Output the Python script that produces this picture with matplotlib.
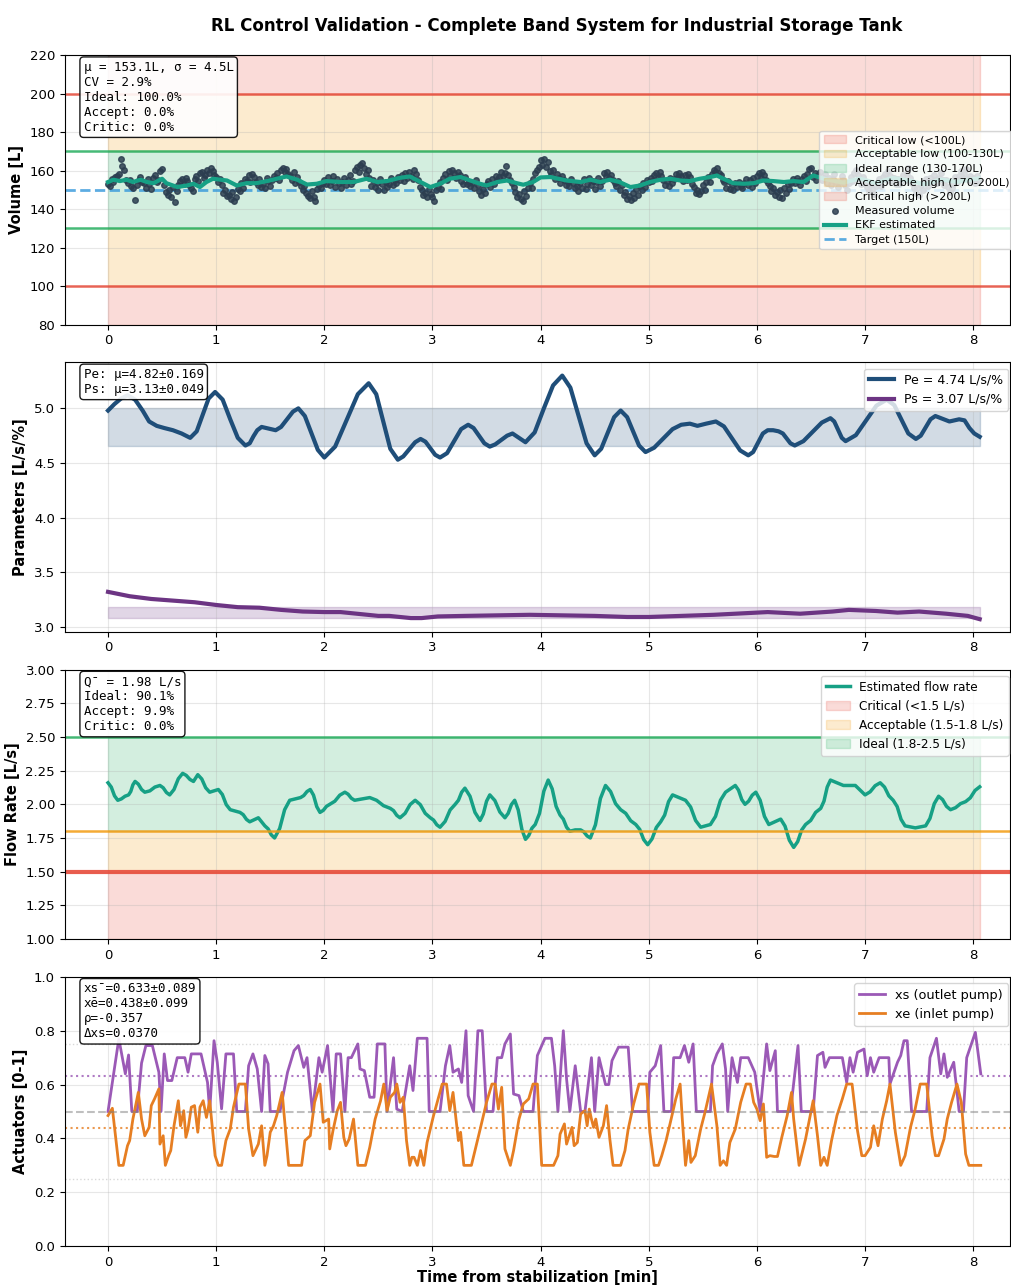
import matplotlib
matplotlib.use("Agg")
import matplotlib.pyplot as plt
import numpy as np

# ---- data ----
# measured volume, one sample per second
vol_meas = [
    153.2, 151.8, 155.6, 154.1, 156.9, 157.4, 158.2, 166.1, 162.3, 160.4, 155.2, 153.8, 154.9, 152.1, 150.8, 144.6, 152.7, 155.3, 156.8, 154.0,
    153.5, 151.2, 155.8, 153.0, 150.6, 156.4, 157.9, 154.3, 155.1, 159.6, 160.8, 152.4, 148.9, 147.2, 149.8, 146.5, 151.3, 143.7, 149.5, 152.8,
    154.6, 155.9, 153.2, 156.1, 154.8, 152.5, 151.0, 149.3, 155.7, 157.2, 154.4, 158.6, 159.4, 156.3, 157.8, 160.2, 158.9, 161.2, 159.7, 157.5,
    156.8, 154.2, 155.9, 152.6, 148.4, 150.1, 146.8, 147.5, 145.2, 148.9, 144.3, 146.1, 150.7, 149.6, 153.4, 151.2, 155.8, 154.7, 157.6, 153.9,
    158.3, 156.9, 154.1, 152.8, 155.6, 151.7, 153.3, 150.9, 156.2, 154.5, 152.2, 155.0, 157.3, 156.1, 158.8, 154.9, 160.3, 161.4, 159.2, 160.7,
    158.5, 157.1, 155.4, 159.3, 153.8, 156.6, 154.2, 152.1, 149.7, 151.9, 148.3, 147.0, 145.6, 149.2, 146.4, 144.1, 150.5, 152.7, 151.0, 153.8,
    155.2, 153.1, 156.7, 152.4, 154.8, 157.3, 151.6, 155.9, 153.7, 150.9, 154.2, 156.1, 152.8, 155.4, 157.6, 153.3, 154.7, 160.2, 161.8, 159.4,
    162.7, 163.9, 161.2, 158.5, 160.4, 156.3, 152.1, 154.9, 151.7, 153.4, 150.2, 155.6, 152.9, 149.8, 154.3, 151.5, 153.0, 156.2, 152.4, 155.1,
    153.6, 156.8, 155.2, 157.9, 154.6, 158.7, 156.4, 159.3, 157.1, 155.8, 160.1, 158.2, 154.9, 151.3, 149.7, 147.2, 148.6, 146.3, 150.4, 147.8,
    146.5, 144.2, 149.8, 151.6, 153.9, 150.7, 156.2, 158.4, 155.1, 159.6, 157.3, 160.5, 158.9, 156.0, 159.2, 157.7, 154.8, 153.1, 156.6, 152.9,
    154.2, 151.8, 153.6, 150.9, 155.4, 152.7, 149.4, 147.6, 150.3, 148.2, 152.9, 154.5, 151.3, 155.8, 153.0, 157.4, 154.9, 156.8, 159.1, 157.2,
    158.6, 162.2, 157.9, 155.3, 153.7, 151.4, 148.8, 146.2, 147.9, 145.1, 144.3, 149.5, 146.7, 151.2, 153.6, 150.8, 155.7, 158.9, 160.4, 162.1,
    165.4, 163.2, 166.0, 161.7, 164.3, 159.8, 157.5, 160.6, 155.9, 158.2, 156.4, 153.8, 157.1, 155.0, 152.6, 154.3, 151.9, 155.7, 153.4, 150.8,
    152.1, 149.6, 153.8, 151.2, 155.6, 150.4, 153.1, 156.3, 152.5, 154.8, 150.7, 153.9, 156.1, 151.8, 154.6, 158.7, 157.3, 159.2, 156.4, 158.0,
    155.3, 153.6, 151.9, 154.4, 150.2, 152.8, 147.5, 149.1, 145.2, 146.8, 144.6, 148.3, 145.9, 150.6, 147.4, 152.1, 149.8, 153.7, 151.4, 155.2,
    153.9, 156.2, 154.5, 157.8, 158.6, 156.1, 159.3, 157.0, 155.4, 152.3, 154.7, 151.8, 156.0, 153.5, 155.9, 158.1, 156.7, 159.0, 157.4, 154.8,
    157.9, 155.2, 158.4, 156.6, 153.1, 151.7, 148.5, 150.2, 147.8, 149.4, 152.6, 150.1, 154.3, 156.8, 153.9, 158.2, 160.4, 159.1, 161.3, 158.6,
    157.6, 155.3, 153.9, 151.2, 154.7, 150.5, 152.8, 149.9, 153.4, 151.6, 154.1, 152.0, 150.8, 153.7, 155.5, 152.4, 154.9, 151.3, 156.2, 153.8,
    157.4, 158.9, 156.2, 159.5, 157.8, 155.1, 153.6, 151.9, 149.4, 150.8, 147.6, 148.9, 146.3, 149.7, 145.8, 151.2, 148.5, 152.9, 150.4, 153.6,
    155.8, 153.4, 156.1, 154.7, 152.3, 155.9, 157.2, 154.5, 158.3, 160.9, 161.4, 156.7, 158.8, 155.2, 157.6, 159.3, 154.9, 156.4, 158.1, 153.7,
    156.3, 152.8, 155.5, 158.2, 154.0, 151.6, 153.9, 157.4, 155.1, 152.3, 149.8, 153.6, 156.9, 154.4, 158.7, 160.2, 157.5, 155.8, 153.2, 156.6,
    154.1, 151.4, 149.2, 152.7, 150.3, 147.9, 151.8, 153.5, 155.9, 152.2, 156.8, 158.4, 155.3, 159.7, 157.1, 154.6, 156.3, 153.1, 155.7, 152.9,
    154.8, 157.6, 155.2, 158.9, 161.3, 156.4, 153.7, 151.0, 148.6, 150.9, 147.3, 152.5, 149.8, 153.9, 155.6, 152.1, 156.4, 154.2, 157.8, 155.0,
    153.6, 156.1, 158.8, 155.4, 152.7, 154.9, 151.3, 148.7, 150.8, 153.2, 156.5, 154.0, 157.3, 159.6, 156.8, 158.2, 160.7, 155.9, 157.4, 154.6,
    156.2, 153.8, 157.1, 155.4,
]
t_meas = np.arange(len(vol_meas)) / 60.0

ekf_t = [0.00, 0.05, 0.11, 0.17, 0.23, 0.30, 0.36, 0.42, 0.50, 0.54, 0.64, 0.73, 0.79, 0.85, 0.91, 0.97,
         1.10, 1.19, 1.28, 1.37, 1.47, 1.56, 1.65, 1.75, 1.84, 1.93, 2.02, 2.15, 2.27, 2.39, 2.49, 2.58,
         2.70, 2.79, 2.89, 2.98, 3.07, 3.16, 3.26, 3.35, 3.44, 3.50, 3.60, 3.69, 3.78, 3.84, 3.93, 4.00,
         4.09, 4.24, 4.37, 4.46, 4.55, 4.64, 4.73, 4.83, 4.92, 5.01, 5.11, 5.20, 5.29, 5.38, 5.47, 5.57,
         5.63, 5.69, 5.78, 5.88, 5.97, 6.06, 6.15, 6.25, 6.34, 6.43, 6.52, 6.62, 6.66, 6.80, 6.95, 7.10,
         7.25, 7.40, 7.55, 7.70, 7.85, 8.05]
ekf_v = [154.1, 155.3, 154.6, 155.3, 154.1, 155.3, 154.1, 153.5, 155.8, 153.5, 151.5, 152.3, 153.2, 151.5, 154.1, 155.8,
         154.9, 152.3, 153.5, 153.5, 154.6, 155.8, 157.0, 155.3, 152.8, 153.2, 154.6, 154.1, 154.1, 155.8, 154.1, 154.6,
         156.3, 157.0, 154.1, 151.5, 153.2, 155.8, 156.7, 154.9, 153.2, 152.3, 154.1, 154.9, 153.5, 152.7, 154.1, 156.5,
         156.7, 154.9, 154.1, 155.3, 154.1, 155.3, 154.1, 151.5, 152.3, 154.1, 155.3, 155.8, 154.9, 154.6, 155.8, 156.7,
         157.5, 155.8, 153.5, 153.2, 153.5, 154.9, 154.6, 154.1, 154.6, 154.1, 157.5, 155.8, 155.3, 153.8, 155.9, 153.6,
         156.2, 155.0, 152.9, 155.4, 154.2, 156.0]

# Pe estimate (time [min], value)
pe_pts = [
    (0.00, 4.98), (0.06, 5.04), (0.12, 5.09), (0.18, 5.12), (0.25, 5.08), (0.32, 4.98), (0.38, 4.88), (0.45, 4.84),
    (0.52, 4.82), (0.60, 4.80), (0.68, 4.77), (0.76, 4.73), (0.82, 4.79), (0.875, 4.94), (0.93, 5.09), (0.99, 5.15),
    (1.06, 5.08), (1.13, 4.90), (1.20, 4.73), (1.27, 4.66), (1.31, 4.68), (1.345, 4.745), (1.38, 4.80), (1.42, 4.83),
    (1.485, 4.815), (1.55, 4.80), (1.60, 4.83), (1.655, 4.90), (1.71, 4.97), (1.76, 5.00), (1.82, 4.93), (1.88, 4.775),
    (1.94, 4.62), (2.00, 4.55), (2.10, 4.65), (2.205, 4.89), (2.31, 5.13), (2.41, 5.23), (2.48, 5.13), (2.545, 4.88),
    (2.61, 4.63), (2.68, 4.53), (2.73, 4.56), (2.785, 4.625), (2.84, 4.69), (2.89, 4.72), (2.935, 4.695), (2.98, 4.635),
    (3.025, 4.575), (3.07, 4.55), (3.135, 4.59), (3.20, 4.70), (3.265, 4.81), (3.33, 4.85), (3.38, 4.82), (3.43, 4.75),
    (3.48, 4.68), (3.53, 4.65), (3.58, 4.67), (3.635, 4.71), (3.69, 4.75), (3.74, 4.77), (3.80, 4.73), (3.86, 4.69),
    (3.945, 4.78), (4.03, 5.00), (4.115, 5.21), (4.20, 5.30), (4.275, 5.19), (4.35, 4.935), (4.425, 4.68), (4.50, 4.57),
    (4.56, 4.63), (4.62, 4.775), (4.68, 4.92), (4.74, 4.98), (4.80, 4.92), (4.855, 4.79), (4.91, 4.66), (4.97, 4.60),
    (5.05, 4.64), (5.135, 4.725), (5.22, 4.81), (5.30, 4.85), (5.38, 4.86), (5.45, 4.84), (5.53, 4.86), (5.62, 4.88),
    (5.695, 4.835), (5.77, 4.725), (5.845, 4.615), (5.92, 4.57), (5.965, 4.60), (6.01, 4.685), (6.055, 4.77), (6.10, 4.80),
    (6.15, 4.80), (6.20, 4.79), (6.24, 4.77), (6.275, 4.725), (6.31, 4.68), (6.35, 4.66), (6.43, 4.70), (6.515, 4.785),
    (6.60, 4.87), (6.68, 4.91), (6.715, 4.88), (6.75, 4.805), (6.785, 4.73), (6.82, 4.70), (6.915, 4.755), (7.01, 4.89),
    (7.105, 5.025), (7.20, 5.08), (7.27, 5.03), (7.335, 4.90), (7.40, 4.77), (7.47, 4.72), (7.515, 4.75), (7.56, 4.825),
    (7.605, 4.90), (7.65, 4.93), (7.715, 4.905), (7.78, 4.88), (7.825, 4.89), (7.87, 4.90), (7.92, 4.89), (7.965, 4.82),
    (8.01, 4.77), (8.06, 4.74),
]
# Ps estimate
ps_pts = [
    (0.00, 3.32), (0.20, 3.28), (0.40, 3.255), (0.60, 3.24), (0.80, 3.225), (1.00, 3.20), (1.20, 3.18), (1.40, 3.175),
    (1.60, 3.155), (1.80, 3.14), (2.00, 3.135), (2.15, 3.135), (2.30, 3.12), (2.50, 3.10), (2.60, 3.10), (2.80, 3.08),
    (2.90, 3.08), (3.05, 3.095), (3.30, 3.10), (3.60, 3.105), (3.90, 3.11), (4.20, 3.105), (4.50, 3.10), (4.80, 3.09),
    (5.00, 3.09), (5.30, 3.10), (5.60, 3.11), (5.90, 3.125), (6.10, 3.135), (6.40, 3.12), (6.70, 3.14), (6.85, 3.155),
    (7.10, 3.145), (7.30, 3.13), (7.50, 3.14), (7.75, 3.12), (7.95, 3.10), (8.06, 3.07),
]

# estimated flow rate
q_pts = [
    (0.00, 2.16), (0.03, 2.128), (0.06, 2.063), (0.09, 2.03), (0.123, 2.04), (0.157, 2.06), (0.19, 2.07), (0.21, 2.095),
    (0.23, 2.145), (0.25, 2.17), (0.28, 2.15), (0.31, 2.11), (0.34, 2.09), (0.387, 2.10), (0.433, 2.128), (0.48, 2.14),
    (0.51, 2.123), (0.54, 2.088), (0.57, 2.07), (0.61, 2.11), (0.65, 2.19), (0.69, 2.23), (0.723, 2.215), (0.757, 2.185),
    (0.79, 2.17), (0.81, 2.195), (0.83, 2.22), (0.867, 2.188), (0.903, 2.123), (0.94, 2.09), (0.98, 2.10), (1.02, 2.11),
    (1.057, 2.073), (1.093, 1.998), (1.13, 1.96), (1.175, 1.95), (1.22, 1.94), (1.25, 1.923), (1.28, 1.888), (1.31, 1.87),
    (1.35, 1.885), (1.39, 1.90), (1.42, 1.87), (1.45, 1.84), (1.48, 1.818), (1.51, 1.773), (1.54, 1.75), (1.587, 1.82),
    (1.633, 1.96), (1.68, 2.03), (1.73, 2.04), (1.78, 2.05), (1.81, 2.065), (1.84, 2.095), (1.87, 2.11), (1.90, 2.068),
    (1.93, 1.983), (1.96, 1.94), (1.99, 1.955), (2.02, 1.985), (2.05, 2.00), (2.097, 2.023), (2.143, 2.068), (2.19, 2.09),
    (2.22, 2.075), (2.25, 2.045), (2.28, 2.03), (2.35, 2.04), (2.42, 2.05), (2.483, 2.03), (2.547, 1.99), (2.61, 1.97),
    (2.64, 1.953), (2.67, 1.918), (2.70, 1.90), (2.747, 1.933), (2.793, 1.998), (2.84, 2.03), (2.887, 1.998), (2.933, 1.933),
    (2.98, 1.90), (3.01, 1.883), (3.04, 1.848), (3.07, 1.83), (3.117, 1.873), (3.163, 1.958), (3.21, 2.00), (3.24, 2.03),
    (3.27, 2.09), (3.30, 2.12), (3.347, 2.06), (3.393, 1.94), (3.44, 1.88), (3.47, 1.928), (3.50, 2.023), (3.53, 2.07),
    (3.577, 2.028), (3.623, 1.943), (3.67, 1.90), (3.70, 1.933), (3.73, 1.998), (3.76, 2.03), (3.793, 1.958), (3.827, 1.813),
    (3.86, 1.74), (3.89, 1.768), (3.92, 1.823), (3.95, 1.85), (3.99, 1.933), (4.03, 2.098), (4.07, 2.18), (4.107, 2.115),
    (4.143, 1.985), (4.18, 1.92), (4.21, 1.89), (4.24, 1.83), (4.27, 1.80), (4.32, 1.81), (4.37, 1.81), (4.40, 1.795),
    (4.43, 1.765), (4.46, 1.75), (4.507, 1.848), (4.553, 2.043), (4.60, 2.14), (4.647, 2.095), (4.693, 2.005), (4.74, 1.96),
    (4.787, 1.933), (4.833, 1.878), (4.88, 1.85), (4.917, 1.813), (4.953, 1.738), (4.99, 1.70), (5.03, 1.743), (5.07, 1.828),
    (5.11, 1.87), (5.147, 1.92), (5.183, 2.02), (5.22, 2.07), (5.28, 2.05), (5.34, 2.03), (5.387, 1.98), (5.433, 1.88),
    (5.48, 1.83), (5.525, 1.84), (5.57, 1.85), (5.617, 1.91), (5.663, 2.03), (5.71, 2.09), (5.755, 2.115), (5.80, 2.14),
    (5.83, 2.105), (5.86, 2.035), (5.89, 2.00), (5.923, 2.023), (5.957, 2.068), (5.99, 2.09), (6.03, 2.03), (6.07, 1.91),
    (6.11, 1.85), (6.165, 1.87), (6.22, 1.89), (6.26, 1.838), (6.30, 1.733), (6.34, 1.68), (6.377, 1.723), (6.413, 1.808),
    (6.45, 1.85), (6.497, 1.88), (6.543, 1.94), (6.59, 1.97), (6.62, 2.023), (6.65, 2.128), (6.68, 2.18), (6.74, 2.16),
    (6.80, 2.14), (6.855, 2.14), (6.91, 2.14), (6.955, 2.105), (7.00, 2.07), (7.047, 2.093), (7.093, 2.138), (7.14, 2.16),
    (7.18, 2.128), (7.22, 2.063), (7.26, 2.03), (7.297, 1.983), (7.333, 1.888), (7.37, 1.84), (7.465, 1.825), (7.56, 1.84),
    (7.60, 1.895), (7.64, 2.005), (7.68, 2.06), (7.717, 2.035), (7.753, 1.985), (7.79, 1.96), (7.837, 1.975), (7.883, 2.005),
    (7.93, 2.02), (7.973, 2.048), (8.017, 2.103), (8.06, 2.13),
]

xs_t = [0.00, 0.10, 0.16, 0.19, 0.22, 0.27, 0.31, 0.35, 0.41, 0.47, 0.49, 0.52, 0.55, 0.59, 0.64, 0.71,
        0.74, 0.77, 0.86, 0.92, 0.94, 0.98, 1.01, 1.05, 1.09, 1.16, 1.19, 1.27, 1.30, 1.34, 1.38, 1.42,
        1.45, 1.48, 1.50, 1.59, 1.66, 1.72, 1.76, 1.81, 1.84, 1.89, 1.95, 1.98, 2.03, 2.08, 2.11, 2.15,
        2.19, 2.22, 2.25, 2.31, 2.33, 2.37, 2.42, 2.46, 2.49, 2.56, 2.58, 2.64, 2.67, 2.72, 2.79, 2.82,
        2.86, 2.95, 2.97, 3.07, 3.12, 3.16, 3.19, 3.24, 3.27, 3.31, 3.33, 3.38, 3.42, 3.46, 3.50, 3.56,
        3.60, 3.64, 3.67, 3.72, 3.75, 3.80, 3.84, 3.93, 3.97, 4.04, 4.10, 4.13, 4.16, 4.21, 4.24, 4.27,
        4.32, 4.37, 4.41, 4.47, 4.50, 4.54, 4.60, 4.63, 4.66, 4.72, 4.81, 4.85, 4.99, 5.01, 5.06, 5.11,
        5.14, 5.21, 5.23, 5.29, 5.33, 5.37, 5.41, 5.44, 5.57, 5.59, 5.63, 5.68, 5.71, 5.73, 5.77, 5.82,
        5.85, 5.92, 5.98, 6.03, 6.09, 6.12, 6.17, 6.19, 6.31, 6.38, 6.41, 6.52, 6.56, 6.61, 6.63, 6.67,
        6.79, 6.83, 6.86, 6.89, 6.93, 6.99, 7.02, 7.05, 7.08, 7.13, 7.22, 7.23, 7.30, 7.33, 7.36, 7.39,
        7.43, 7.57, 7.60, 7.66, 7.70, 7.73, 7.76, 7.82, 7.87, 7.91, 7.94, 8.02, 8.07]
xs_v = [0.50, 0.77, 0.64, 0.71, 0.50, 0.50, 0.68, 0.745, 0.745, 0.646, 0.50, 0.714, 0.615, 0.615, 0.70, 0.70,
        0.646, 0.714, 0.714, 0.608, 0.50, 0.763, 0.683, 0.51, 0.714, 0.714, 0.50, 0.50, 0.67, 0.714, 0.658, 0.50,
        0.708, 0.677, 0.50, 0.50, 0.646, 0.726, 0.745, 0.664, 0.70, 0.50, 0.70, 0.646, 0.745, 0.50, 0.714, 0.714,
        0.50, 0.70, 0.70, 0.751, 0.658, 0.652, 0.553, 0.553, 0.751, 0.751, 0.50, 0.70, 0.509, 0.50, 0.67, 0.578,
        0.772, 0.772, 0.50, 0.50, 0.67, 0.745, 0.646, 0.658, 0.608, 0.80, 0.559, 0.50, 0.80, 0.80, 0.50, 0.50,
        0.70, 0.70, 0.751, 0.788, 0.565, 0.559, 0.50, 0.50, 0.708, 0.772, 0.772, 0.67, 0.50, 0.80, 0.621, 0.50,
        0.67, 0.50, 0.50, 0.70, 0.50, 0.70, 0.60, 0.60, 0.689, 0.739, 0.739, 0.50, 0.50, 0.646, 0.67, 0.745,
        0.50, 0.50, 0.70, 0.70, 0.745, 0.683, 0.751, 0.50, 0.50, 0.67, 0.714, 0.751, 0.658, 0.50, 0.70, 0.608,
        0.70, 0.70, 0.646, 0.50, 0.751, 0.652, 0.726, 0.50, 0.50, 0.745, 0.50, 0.50, 0.708, 0.72, 0.664, 0.70,
        0.70, 0.608, 0.70, 0.646, 0.72, 0.732, 0.633, 0.70, 0.646, 0.70, 0.70, 0.602, 0.683, 0.708, 0.763, 0.763,
        0.50, 0.50, 0.70, 0.772, 0.64, 0.714, 0.627, 0.683, 0.50, 0.50, 0.70, 0.794, 0.64]

xe_t = [0.00, 0.04, 0.10, 0.14, 0.18, 0.20, 0.23, 0.28, 0.31, 0.34, 0.38, 0.40, 0.43, 0.47, 0.48, 0.51,
        0.53, 0.56, 0.58, 0.61, 0.65, 0.67, 0.70, 0.72, 0.74, 0.77, 0.80, 0.83, 0.85, 0.88, 0.91, 0.94,
        0.99, 1.02, 1.05, 1.09, 1.13, 1.16, 1.21, 1.27, 1.30, 1.34, 1.39, 1.42, 1.45, 1.47, 1.50, 1.53,
        1.56, 1.61, 1.67, 1.79, 1.82, 1.87, 1.91, 1.96, 1.99, 2.04, 2.05, 2.08, 2.12, 2.15, 2.18, 2.20,
        2.23, 2.27, 2.31, 2.38, 2.42, 2.47, 2.52, 2.55, 2.58, 2.61, 2.65, 2.67, 2.70, 2.73, 2.76, 2.79,
        2.81, 2.83, 2.86, 2.89, 2.92, 2.95, 3.01, 3.06, 3.09, 3.13, 3.16, 3.19, 3.24, 3.26, 3.29, 3.36,
        3.43, 3.50, 3.55, 3.58, 3.61, 3.64, 3.67, 3.72, 3.75, 3.80, 3.84, 3.89, 3.93, 3.97, 4.01, 4.12,
        4.16, 4.18, 4.22, 4.24, 4.27, 4.29, 4.31, 4.34, 4.37, 4.41, 4.43, 4.45, 4.47, 4.49, 4.51, 4.54,
        4.58, 4.61, 4.64, 4.67, 4.74, 4.78, 4.81, 4.86, 4.91, 4.98, 5.01, 5.05, 5.09, 5.12, 5.16, 5.20,
        5.25, 5.29, 5.31, 5.34, 5.37, 5.39, 5.43, 5.48, 5.52, 5.58, 5.63, 5.66, 5.69, 5.72, 5.75, 5.80,
        5.85, 5.90, 5.94, 5.97, 6.00, 6.03, 6.06, 6.09, 6.12, 6.16, 6.19, 6.23, 6.28, 6.32, 6.34, 6.39,
        6.45, 6.52, 6.56, 6.59, 6.62, 6.65, 6.69, 6.74, 6.79, 6.83, 6.88, 6.93, 6.97, 7.00, 7.05, 7.08,
        7.12, 7.16, 7.20, 7.23, 7.28, 7.33, 7.37, 7.42, 7.46, 7.51, 7.57, 7.62, 7.65, 7.68, 7.73, 7.76,
        7.80, 7.85, 7.89, 7.93, 7.96, 8.07]
xe_v = [0.485, 0.512, 0.30, 0.30, 0.373, 0.392, 0.472, 0.571, 0.472, 0.41, 0.441, 0.522, 0.547, 0.584, 0.379, 0.41,
        0.30, 0.336, 0.355, 0.447, 0.54, 0.447, 0.503, 0.404, 0.435, 0.516, 0.522, 0.423, 0.516, 0.54, 0.478, 0.54,
        0.336, 0.30, 0.30, 0.392, 0.435, 0.516, 0.602, 0.602, 0.435, 0.336, 0.379, 0.447, 0.30, 0.336, 0.423, 0.447,
        0.485, 0.571, 0.30, 0.30, 0.392, 0.41, 0.534, 0.602, 0.46, 0.472, 0.361, 0.429, 0.503, 0.534, 0.404, 0.373,
        0.398, 0.472, 0.30, 0.30, 0.367, 0.472, 0.54, 0.602, 0.503, 0.553, 0.571, 0.602, 0.534, 0.553, 0.392, 0.30,
        0.33, 0.33, 0.30, 0.355, 0.30, 0.385, 0.485, 0.559, 0.602, 0.602, 0.503, 0.571, 0.392, 0.423, 0.30, 0.30,
        0.416, 0.534, 0.602, 0.602, 0.509, 0.59, 0.361, 0.30, 0.355, 0.472, 0.528, 0.547, 0.602, 0.602, 0.30, 0.30,
        0.336, 0.416, 0.454, 0.379, 0.416, 0.441, 0.373, 0.385, 0.491, 0.503, 0.447, 0.509, 0.472, 0.441, 0.472, 0.404,
        0.447, 0.522, 0.398, 0.30, 0.30, 0.355, 0.435, 0.528, 0.602, 0.602, 0.423, 0.30, 0.30, 0.336, 0.392, 0.46,
        0.547, 0.602, 0.472, 0.30, 0.392, 0.311, 0.336, 0.435, 0.497, 0.602, 0.447, 0.30, 0.317, 0.30, 0.385, 0.435,
        0.534, 0.602, 0.602, 0.534, 0.509, 0.466, 0.528, 0.33, 0.336, 0.333, 0.333, 0.404, 0.485, 0.571, 0.472, 0.30,
        0.398, 0.54, 0.41, 0.30, 0.33, 0.30, 0.392, 0.485, 0.547, 0.602, 0.602, 0.429, 0.336, 0.336, 0.367, 0.447,
        0.373, 0.472, 0.54, 0.602, 0.423, 0.30, 0.336, 0.441, 0.503, 0.602, 0.602, 0.41, 0.336, 0.336, 0.398, 0.472,
        0.534, 0.602, 0.534, 0.342, 0.30, 0.30]

pe_t, pe_v = zip(*pe_pts)
ps_t, ps_v = zip(*ps_pts)
q_t, q_v = zip(*q_pts)

t_end = 8.06
band_t = [0.0, t_end]

C_RED = '#e74c3c'
C_ORG = '#f39c12'
C_GRN = '#27ae60'

fig, axes = plt.subplots(4, 1, figsize=(10.12, 12.86), dpi=100)
fig.subplots_adjust(left=0.064, right=0.998, top=0.957, bottom=0.031, hspace=0.141)
fig.suptitle('RL Control Validation - Complete Band System for Industrial Storage Tank',
             fontsize=12, fontweight='bold', x=0.55, y=0.987)

box = dict(boxstyle='round', facecolor='white', alpha=0.9, edgecolor='black')

# ---- panel 1: volume ----
ax = axes[0]
ax.fill_between(band_t, 80, 100, color=C_RED, alpha=0.2, label='Critical low (<100L)')
ax.fill_between(band_t, 100, 130, color=C_ORG, alpha=0.2, label='Acceptable low (100-130L)')
ax.fill_between(band_t, 130, 170, color=C_GRN, alpha=0.2, label='Ideal range (130-170L)')
ax.fill_between(band_t, 170, 200, color=C_ORG, alpha=0.2, label='Acceptable high (170-200L)')
ax.fill_between(band_t, 200, 220, color=C_RED, alpha=0.2, label='Critical high (>200L)')
for yv, c in [(100, C_RED), (200, C_RED), (130, C_GRN), (170, C_GRN)]:
    ax.axhline(yv, color=c, lw=1.8, alpha=0.85)
ax.scatter(t_meas, vol_meas, s=16, color='#2c3e50', alpha=0.85, zorder=3, label='Measured volume')
ax.plot(ekf_t, ekf_v, color='#16a085', lw=3, zorder=4, label='EKF estimated')
ax.axhline(150, color='#3498db', ls='--', lw=2, alpha=0.8, label='Target (150L)')
ax.set_ylim(80, 220)
ax.set_ylabel('Volume [L]', fontsize=10.5, fontweight='bold')
ax.text(0.02, 0.98, 'μ = 153.1L, σ = 4.5L\nCV = 2.9%\nIdeal: 100.0%\nAccept: 0.0%\nCritic: 0.0%',
        transform=ax.transAxes, va='top', fontsize=9, family='monospace', bbox=box)
ax.legend(loc='center right', bbox_to_anchor=(1.01, 0.5), fontsize=8, labelspacing=0.38, framealpha=0.8)

# ---- panel 2: parameters ----
ax = axes[1]
ax.fill_between(band_t, 4.66, 5.0, color='#1f4e79', alpha=0.2)
ax.fill_between(band_t, 3.08, 3.18, color='#6c3483', alpha=0.2)
ax.plot(pe_t, pe_v, color='#1f4e79', lw=3, label='Pe = 4.74 L/s/%')
ax.plot(ps_t, ps_v, color='#6c3483', lw=3, label='Ps = 3.07 L/s/%')
ax.set_ylim(2.955, 5.42)
ax.set_ylabel('Parameters [L/s/%]', fontsize=10.5, fontweight='bold')
ax.text(0.02, 0.98, 'Pe: μ=4.82±0.169\nPs: μ=3.13±0.049',
        transform=ax.transAxes, va='top', fontsize=9, family='monospace', bbox=box)
ax.legend(loc='upper right', bbox_to_anchor=(1.005, 1.0), fontsize=9)

# ---- panel 3: flow rate ----
ax = axes[2]
ax.plot(q_t, q_v, color='#16a085', lw=2.5, label='Estimated flow rate')
ax.fill_between(band_t, 1.0, 1.5, color=C_RED, alpha=0.2, label='Critical (<1.5 L/s)')
ax.fill_between(band_t, 1.5, 1.8, color=C_ORG, alpha=0.2, label='Acceptable (1.5-1.8 L/s)')
ax.fill_between(band_t, 1.8, 2.5, color=C_GRN, alpha=0.2, label='Ideal (1.8-2.5 L/s)')
ax.axhline(2.5, color=C_GRN, lw=1.8, alpha=0.85)
ax.axhline(1.8, color=C_ORG, lw=1.8, alpha=0.85)
ax.axhline(1.5, color=C_RED, lw=3, alpha=0.9)
ax.set_ylim(1.0, 3.0)
ax.set_yticks(np.arange(1.0, 3.01, 0.25))
ax.set_ylabel('Flow Rate [L/s]', fontsize=10.5, fontweight='bold')
ax.text(0.02, 0.98, 'Q̄ = 1.98 L/s\nIdeal: 90.1%\nAccept: 9.9%\nCritic: 0.0%',
        transform=ax.transAxes, va='top', fontsize=9, family='monospace', bbox=box)
ax.legend(loc='upper right', bbox_to_anchor=(1.005, 1.0), fontsize=8.7)

# ---- panel 4: actuators ----
ax = axes[3]
ax.plot(xs_t, xs_v, color='#9b59b6', lw=2, label='xs (outlet pump)')
ax.plot(xe_t, xe_v, color='#e67e22', lw=2, label='xe (inlet pump)')
ax.axhline(0.633, color='#9b59b6', ls=':', lw=1.5, alpha=0.8)
ax.axhline(0.438, color='#e67e22', ls=':', lw=1.5, alpha=0.8)
ax.axhline(0.5, color='gray', ls='--', lw=1.5, alpha=0.5)
ax.axhline(0.75, color='gray', ls=':', lw=1, alpha=0.3)
ax.axhline(0.25, color='gray', ls=':', lw=1, alpha=0.3)
ax.set_ylim(0, 1)
ax.set_ylabel('Actuators [0-1]', fontsize=10.5, fontweight='bold')
ax.set_xlabel('Time from stabilization [min]', fontsize=10.5, fontweight='bold', labelpad=1)
ax.text(0.02, 0.98, 'xs̄=0.633±0.089\nxē=0.438±0.099\nρ=-0.357\nΔxs=0.0370',
        transform=ax.transAxes, va='top', fontsize=9, family='monospace', bbox=box)
ax.legend(loc='upper right', bbox_to_anchor=(1.005, 1.0), fontsize=9.3)

for ax in axes:
    ax.set_xlim(-0.4, 8.34)
    ax.grid(True, alpha=0.3)
    ax.tick_params(labelsize=9.5)

fig.savefig('out.png', dpi=100)
